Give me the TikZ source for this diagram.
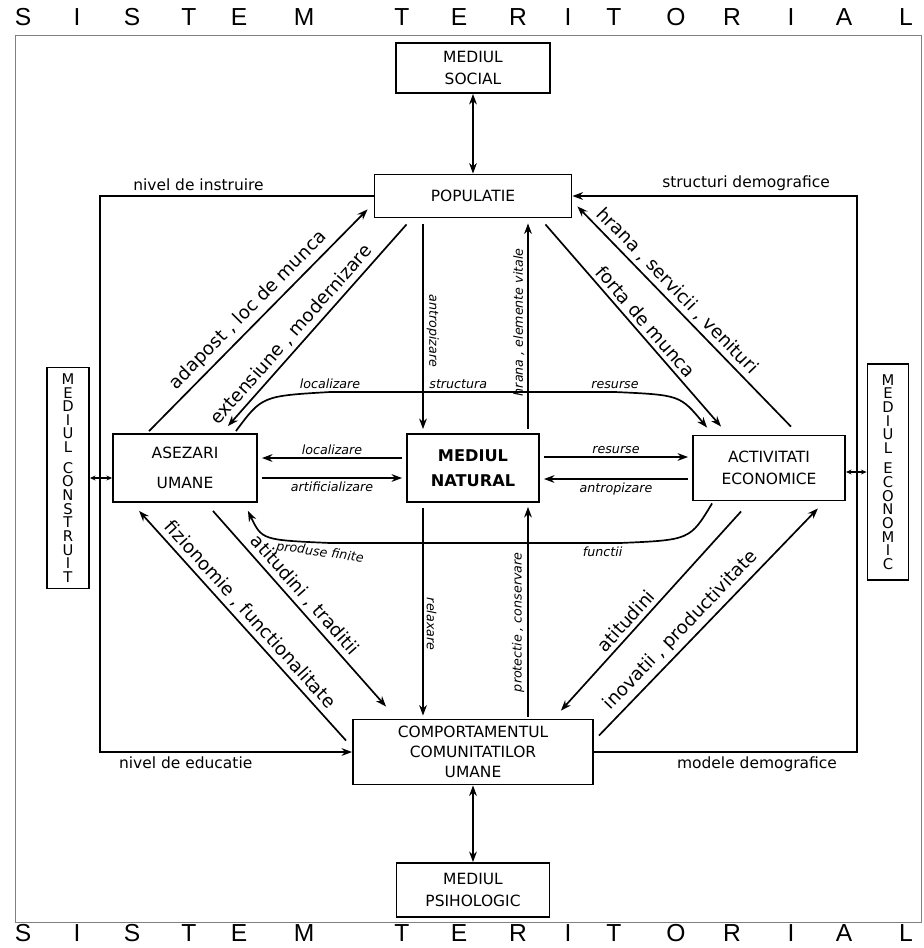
\documentclass[tikz,border=0pt]{standalone}
\usepackage{fontspec}
\setmainfont{DejaVu Sans}
\newfontfamily\titlefont{Liberation Sans}
\usetikzlibrary{arrows.meta, positioning, calc}
\begin{document}
\begin{tikzpicture}[x=0.025cm, y=-0.025cm, >={Stealth[length=7.5pt,width=5.5pt]},
    box/.style={draw, line width=1.3pt, inner sep=0pt, align=center, font=\fontsize{11}{14}\selectfont},
    vbox/.style={draw, line width=1.3pt, inner sep=0pt, align=center, font=\fontsize{10.5}{9.7}\selectfont},
    link/.style={line width=1.2pt},
    lab/.style={font=\fontsize{13}{15}\selectfont, inner sep=3pt},
    tinylab/.style={font=\itshape\fontsize{9}{10}\selectfont, inner sep=2pt},
    sidelab/.style={font=\fontsize{11}{13}\selectfont, inner sep=3pt},
    titlelet/.style={font=\titlefont\fontsize{17.5}{17.5}\selectfont, inner sep=0pt, anchor=base}]
    \useasboundingbox (0,0) rectangle (924,948);
    \draw[gray, line width=0.6pt] (15,35) rectangle (921,922);
    % titlu sus si jos
    \foreach \ch/\xx [count=\i] in {S/23,I/77,S/132,T/189,E/239,M/304,T/402,E/459,R/518,I/568,T/614,O/676,R/732,I/791,A/844,L/906}{
        \node[titlelet] (top\i) at (\xx,25) {\ch};
        \node[titlelet] (bot\i) at (\xx,941) {\ch};
    }
    % blocuri
    \node[box, minimum width=3.85cm, minimum height=1.25cm] (soc) at (473,68) {MEDIUL\\[2pt]SOCIAL};
    \node[box, minimum width=4.925cm, minimum height=1.075cm] (pop) at (473,196) {POPULATIE};
    \node[box, minimum width=3.3cm, minimum height=1.7cm, font=\bfseries\fontsize{11.5}{14}\selectfont] (nat) at (473,468) {MEDIUL\\[4pt]NATURAL};
    \node[box, minimum width=3.6cm, minimum height=1.7cm] (asez) at (185,468) {ASEZARI\\[7pt]UMANE};
    \node[box, minimum width=3.8cm, minimum height=1.625cm] (act) at (769,468) {ACTIVITATI\\[2pt]ECONOMICE};
    \node[box, minimum width=6cm, minimum height=1.625cm] (comp) at (473,752) {COMPORTAMENTUL\\COMUNITATILOR\\UMANE};
    \node[box, minimum width=3.825cm, minimum height=1.35cm] (psi) at (473,890) {MEDIUL\\[1pt]PSIHOLOGIC};
    \node[vbox, minimum width=1.05cm, minimum height=5.525cm] (constr) at (68,478) {M\\E\\D\\I\\U\\L\\[5pt]C\\O\\N\\S\\T\\R\\U\\I\\T};
    \node[vbox, minimum width=1.025cm, minimum height=5.4cm] (econ) at (888,472) {M\\E\\D\\I\\U\\L\\[5pt]E\\C\\O\\N\\O\\M\\I\\C};
    \draw[link, <->] (soc) -- (pop);
    \draw[link, <->] (comp) -- (psi);
    \draw[link, <->, >={Stealth[length=4pt,width=3.5pt]}] (constr.east) -- (constr.east -| asez.west);
    \draw[link, <->, >={Stealth[length=4pt,width=3.5pt]}] (econ.west) -- (econ.west -| act.east);
    % bucle exterioare
    \coordinate (nw) at (100,196);
    \coordinate (sw) at (100,752);
    \coordinate (ne) at (857,196);
    \coordinate (se) at (857,752);
    \draw[link, ->] (pop.west) -- (nw) node[sidelab, pos=.64, above] (instr) {nivel de instruire} -- (sw) -- (comp.west) node[sidelab, pos=.34, below] (educ) {nivel de educatie};
    \draw[link, ->] (comp.east) -- (se) node[sidelab, pos=.62, below] (model) {modele demografice} -- (ne) -- (pop.east) node[sidelab, pos=.39, above] (struct) {structuri demografice};
    % diagonale
    \draw[link, ->] ($(asez.north west)+(37,-2)$) -- ($(pop.south west)+(-6,-9)$) node[lab, midway, sloped, above] (adap) {adapost , loc de munca};
    \draw[link, ->] ($(pop.south west)+(33,6)$) -- ($(asez.north east)+(-30,-7)$) node[lab, pos=.59, sloped, above] (ext) {extensiune , modernizare};
    \draw[link, ->] ($(act.north east)+(-55,-8)$) -- ($(pop.south east)+(5,-12)$) node[lab, pos=.575, sloped, above] (hrana) {hrana , servicii , venituri};
    \draw[link, ->] ($(pop.south east)+(-27,6)$) -- ($(act.north west)+(29,-8)$) node[lab, pos=.52, sloped, above] (forta) {forta de munca};
    \draw[link, ->] ($(comp.north west)+(-6,22)$) -- ($(asez.south west)+(27,8)$) node[lab, pos=.51, sloped, above] (fiz) {fizionomie , functionalitate};
    \draw[link, ->] ($(asez.south east)+(-45,8)$) -- ($(comp.north west)+(34,-12)$) node[lab, pos=.475, sloped, above] (atit) {atitudini , traditii};
    \draw[link, ->] ($(act.south west)+(49,10)$) -- ($(comp.north east)+(-33,-8)$) node[lab, pos=.59, sloped, above] (atitr) {atitudini};
    \draw[link, ->] ($(comp.north east)+(5,17)$) -- ($(act.south east)+(-28,7)$) node[lab, pos=.42, sloped, above] (inov) {inovatii , productivitate};
    % verticale
    \draw[link, ->] ($(pop.south)+(-50,6)$) -- ($(nat.north)+(-50,-4)$) node[tinylab, pos=.52, rotate=-90, above] (antr) {antropizare};
    \draw[link, ->] ($(nat.north)+(55,-4)$) -- ($(pop.south)+(55,5)$) node[tinylab, pos=.52, rotate=90, above] (elem) {hrana , elemente vitale};
    \draw[link, ->] ($(nat.south)+(-50,5)$) -- ($(comp.north)+(-50,-3)$) node[tinylab, pos=.56, rotate=-90, above] (relax) {relaxare};
    \draw[link, ->] ($(comp.north)+(55,-2)$) -- ($(nat.south)+(55,4)$) node[tinylab, pos=.45, rotate=90, above] (prot) {protectie , conservare};
    % orizontale
    \draw[link, ->] ($(nat.west)+(-4,-10)$) -- ($(asez.east)+(4,-10)$) node[tinylab, midway, above] (loc) {localizare};
    \draw[link, ->] ($(asez.east)+(4,10)$) -- ($(nat.west)+(-4,10)$) node[tinylab, midway, below] (art) {artificializare};
    \draw[link, ->] ($(nat.east)+(4,-11)$) -- ($(act.west)+(-4,-11)$) node[tinylab, midway, above] (res) {resurse};
    \draw[link, ->] ($(act.west)+(-4,11)$) -- ($(nat.east)+(4,11)$) node[tinylab, midway, below] (antr2) {antropizare};
    % curbe
    \coordinate (ul) at (330,392);
    \coordinate (ur) at (615,392);
    \coordinate (lr) at (620,543);
    \coordinate (ll) at (330,543);
    \draw[link, ->] ($(asez.north east)+(-22,-2)$) .. controls (262,396) .. (ul) -- (ur) node[tinylab, pos=0, above] (loc2) {localizare} node[tinylab, pos=.45, above] (stru) {structura} node[tinylab, pos=1, above] (res2) {resurse} .. controls (680,395) .. ($(act.north west)+(15,-7)$);
    \draw[link, ->] ($(act.south west)+(20,2)$) .. controls (690,540) .. (lr) -- (ll) node[tinylab, pos=.06, below] (func) {functii} node[tinylab, pos=1.03, below, rotate=-8] (prod) {produse finite} .. controls (262,540) .. ($(asez.south east)+(-10,8)$);
\end{tikzpicture}
\end{document}
